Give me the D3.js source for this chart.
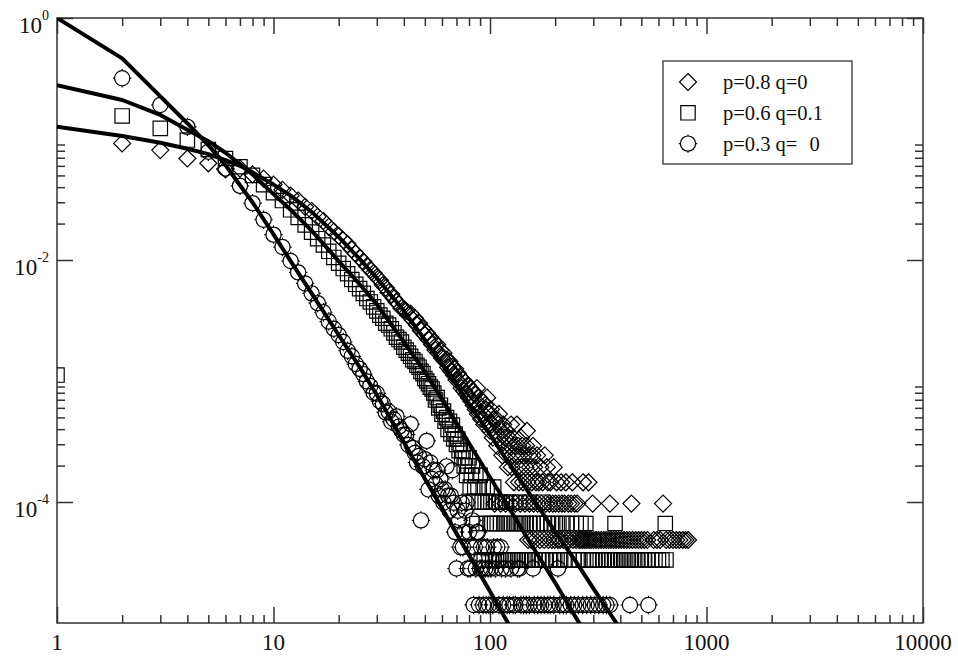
<!DOCTYPE html>
<html>
<head>
<meta charset="utf-8">
<script src="https://cdn.jsdelivr.net/npm/d3@7"></script>
<style>
  html, body { margin: 0; padding: 0; background: #fff; }
  svg { display: block; }
</style>
</head>
<body>
<script>
// ---- Axis ticks ----
const xMajorTicks = [1, 10, 100, 1000, 10000];
const xTickLabels = ["1", "10", "100", "1000", "10000"];
const yMajorTicks = [1, 1e-2, 1e-4];
const yTickExponents = ["0", "-2", "-4"];

// ---- Legend ----
const seriesNames = ["p=0.8 q=0", "p=0.6 q=0.1", "p=0.3 q= 0"];
const seriesShapes = ["diamond", "square", "circle"];

// ---- Model curves: [k, P(k)] ----
const diamondCurve = [[1,0.126],[2,0.106],[3,0.093],[4,0.083],[5,0.075],[6,0.067],[7,0.06],[8,0.053],[10,0.042],[12,0.034],[15,0.025],[20,0.0155],[25,0.0102],[30,0.0071],[40,0.0038],[50,0.0022],[60,0.00138],[70,9.3e-4],[80,6.5e-4],[100,3.6e-4],[120,2.2e-4],[150,1.22e-4],[200,5.67e-5],[250,3.2e-5],[300,1.93e-5],[370,1.1e-5],[450,6.5e-6]];
const squareCurve = [[1,0.279],[2,0.21],[3,0.158],[4,0.119],[5,0.096],[6,0.077],[7,0.062],[8,0.051],[10,0.035],[12,0.026],[15,0.0175],[20,0.0098],[25,0.0063],[30,0.0043],[40,0.0021],[50,0.00119],[60,7.05e-4],[70,4.5e-4],[80,3.06e-4],[100,1.6e-4],[120,9.5e-5],[150,4.9e-5],[200,2.15e-5],[250,1.1e-5],[300,6.4e-6]];
const circleCurve = [[1,1.0],[2,0.464],[3,0.225],[4,0.135],[5,0.089],[6,0.061],[7,0.0415],[8,0.03],[10,0.0163],[12,0.0098],[15,0.0053],[20,0.0024],[25,0.0013],[30,7.7e-4],[40,3.12e-4],[50,1.56e-4],[60,8.9e-5],[70,5.5e-5],[80,3.64e-5],[100,1.82e-5],[120,1.03e-5],[150,5.2e-6]];

// ---- Measured degree distributions: [k, P(k)] ----
const diamondPoints = [[2,0.092],[3,0.081],[4,0.069],[5,0.063],[6,0.056],[7,0.057],[8,0.051],[9,0.047],[10,0.042],[11,0.038],[12,0.034],[13,0.031],[14,0.0275],[15,0.0255],[16,0.0228],[17,0.021],[18,0.0188],[19,0.0172],[20,0.0158],[21,0.0146],[22,0.0135],[23,0.0122],[24,0.0113],[25,0.0104],[26,0.0097],[27,0.0089],[28,0.0083],[29,0.0078],[30,0.0072],[31,0.0068],[32,0.0062],[33,0.0059],[34,0.0054],[35,0.0052],[36,0.0048],[37,0.0045],[38,0.0043],[39,0.004],[40,0.0039],
[41,0.0038],[42,0.0035],[43,0.0036],[44,0.0032],[45,0.0033],[46,0.0029],[47,0.003],[48,0.0026],[49,0.0027],[50,0.0024],[51,0.0025],[52,0.0022],[53,0.0023],[54,0.002],[55,0.0021],[56,0.0018],[57,0.002],[58,0.0017],[59,0.0018],[60,0.00155],[61,0.0017],[62,0.00145],[63,0.0015],[64,0.0013],[65,0.00145],[66,0.00121],[67,0.00131],[68,0.00112],[69,0.00126],[70,0.00102],[71,0.00116],[72,9.7e-4],[73,0.00107],[74,8.73e-4],[75,0.00102],[76,8.25e-4],[77,9.7e-4],[78,7.76e-4],[79,9.22e-4],[80,7.28e-4],[81,8.73e-4],[82,6.79e-4],[83,8.25e-4],[84,6.31e-4],[85,7.76e-4],[86,5.82e-4],[87,8.73e-4],[88,5.34e-4],[89,7.28e-4],[90,6.31e-4],[91,4.85e-4],[92,6.79e-4],[93,5.34e-4],[94,4.37e-4],[95,6.31e-4],[96,5.82e-4],[97,7.28e-4],[98,4.37e-4],[99,5.34e-4],[100,3.88e-4],
[101,5.82e-4],[102,4.37e-4],[103,3.4e-4],[104,4.85e-4],[105,9.7e-5],[106,3.88e-4],[107,4.85e-4],[108,2.91e-4],[109,4.37e-4],[110,5.34e-4],[111,3.4e-4],[112,9.7e-5],[113,3.88e-4],[114,2.43e-4],[115,4.37e-4],[116,2.91e-4],[117,3.4e-4],[118,9.7e-5],[119,3.88e-4],[120,2.43e-4],[121,1.94e-4],[122,3.4e-4],[123,2.91e-4],[124,9.7e-5],[125,4.37e-4],[126,1.94e-4],[127,2.43e-4],[128,3.4e-4],[129,1.455e-4],[130,2.91e-4],[131,9.7e-5],[132,2.43e-4],[133,4.37e-4],[134,1.94e-4],[135,2.91e-4],[136,1.455e-4],[137,2.43e-4],[138,9.7e-5],[139,3.4e-4],[140,1.94e-4],[141,2.91e-4],[142,1.455e-4],[143,2.43e-4],[145,9.7e-5],[146,1.94e-4],[147,2.91e-4],[148,3.88e-4],[149,1.455e-4],[150,4.85e-5],[151,2.43e-4],[152,9.7e-5],[153,1.94e-4],[155,4.85e-5],[156,1.455e-4],[157,2.43e-4],[158,2.91e-4],[159,9.7e-5],[160,1.94e-4],[162,4.85e-5],[163,1.455e-4],[165,2.43e-4],[166,9.7e-5],[168,1.455e-4],[170,4.85e-5],[171,1.94e-4],[173,9.7e-5],[175,1.455e-4],[178,4.85e-5],[179,2.43e-4],[181,9.7e-5],[183,1.94e-4],[185,1.455e-4],[186,4.85e-5],[188,9.7e-5],[190,1.455e-4],[193,4.85e-5],[195,9.7e-5],[197,1.94e-4],[199,4.85e-5],
[201,9.7e-5],[203,1.455e-4],[206,4.85e-5],[208,9.7e-5],[211,4.85e-5],[213,1.455e-4],[215,9.7e-5],[218,4.85e-5],[221,9.7e-5],[224,1.455e-4],[227,4.85e-5],[230,9.7e-5],[233,4.85e-5],[237,9.7e-5],[240,1.455e-4],[242,4.85e-5],[246,9.7e-5],[250,4.85e-5],[253,9.7e-5],[258,4.85e-5],[263,4.85e-5],[268,4.85e-5],[269,1.455e-4],[274,4.85e-5],[280,4.85e-5],[285,1.455e-4],[287,4.85e-5],[293,4.85e-5],[298,9.7e-5],[301,4.85e-5],[309,4.85e-5],[317,4.85e-5],[326,4.85e-5],[335,4.85e-5],[344,4.85e-5],[353,4.85e-5],[358,9.7e-5],[362,4.85e-5],[372,4.85e-5],[382,4.85e-5],[393,4.85e-5],[404,4.85e-5],[416,4.85e-5],[428,4.85e-5],[441,4.85e-5],[450,9.7e-5],[455,4.85e-5],[470,4.85e-5],[485,4.85e-5],[500,4.85e-5],[516,4.85e-5],[533,4.85e-5],[570,4.85e-5],[590,4.85e-5],[610,4.85e-5],[630,9.7e-5],[652,4.85e-5],[675,4.85e-5],[700,4.85e-5],[725,4.85e-5],[750,4.85e-5],[777,4.85e-5],[800,4.85e-5],[822,4.85e-5]];

const squarePoints = [[1,1.12e-3],[2,0.155],[3,0.1225],[4,0.098],[5,0.082],[6,0.069],[7,0.059],[8,0.05],[9,0.042],[10,0.036],[11,0.031],[12,0.026],[13,0.0225],[14,0.0195],[15,0.017],[16,0.015],[17,0.0133],[18,0.0118],[19,0.0105],[20,0.0094],[21,0.0085],[22,0.0077],[23,0.0069],[24,0.0063],[25,0.0058],[26,0.0053],[27,0.0048],[28,0.0045],[29,0.0041],[30,0.0038],[31,0.0035],[32,0.0033],[33,0.003],[34,0.0029],[35,0.0027],[36,0.0025],[37,0.0023],[38,0.0022],[39,0.0021],[40,0.0019],[41,0.0018],[42,0.0017],[43,0.0016],[44,0.0015],[45,0.00145],[46,0.00135],[47,0.0013],[48,0.0012],[49,0.00115],[50,0.00105],[51,0.001],[52,9.5e-4],[53,8.9e-4],[54,8.6e-4],[55,7.96e-4],
[56,6.97e-4],[57,7.3e-4],[58,5.98e-4],[59,6.31e-4],[60,5.31e-4],[61,5.64e-4],[62,4.65e-4],[63,4.98e-4],[64,3.98e-4],[65,4.65e-4],[66,3.65e-4],[67,4.32e-4],[68,3.32e-4],[69,3.65e-4],[70,2.99e-4],[71,3.32e-4],[72,2.66e-4],[73,2.99e-4],[74,2.32e-4],[75,2.66e-4],[76,1.99e-4],[77,2.32e-4],[78,1.66e-4],[79,1.99e-4],[80,2.32e-4],[81,1.33e-4],[82,1.66e-4],[83,1.99e-4],[84,9.96e-5],[85,1.33e-4],[86,1.66e-4],[87,6.64e-5],[88,1.33e-4],[89,9.96e-5],[90,1.66e-4],[91,3.32e-5],[92,9.96e-5],[93,1.33e-4],[94,3.32e-5],[95,9.96e-5],[96,6.64e-5],[97,1.33e-4],[98,9.96e-5],[99,3.32e-5],[100,6.64e-5],
[101,9.96e-5],[102,6.64e-5],[103,3.32e-5],[104,1.33e-4],[105,6.64e-5],[106,9.96e-5],[107,3.32e-5],[108,6.64e-5],[110,9.96e-5],[111,3.32e-5],[112,6.64e-5],[114,9.96e-5],[115,3.32e-5],[116,6.64e-5],[118,3.32e-5],[119,9.96e-5],[120,6.64e-5],[122,3.32e-5],[124,6.64e-5],[126,9.96e-5],[127,3.32e-5],[129,6.64e-5],[131,3.32e-5],[133,6.64e-5],[135,3.32e-5],[137,9.96e-5],[138,6.64e-5],[140,3.32e-5],[142,6.64e-5],[145,3.32e-5],[147,6.64e-5],[150,3.32e-5],[152,9.96e-5],[153,6.64e-5],[156,3.32e-5],[158,6.64e-5],[161,3.32e-5],[164,6.64e-5],[167,3.32e-5],[170,6.64e-5],[173,3.32e-5],[176,9.96e-5],[177,6.64e-5],[180,3.32e-5],[184,6.64e-5],[188,3.32e-5],[192,6.64e-5],[196,3.32e-5],[200,6.64e-5],
[204,3.32e-5],[208,6.64e-5],[212,3.32e-5],[217,6.64e-5],[222,3.32e-5],[227,6.64e-5],[232,3.32e-5],[238,6.64e-5],[244,3.32e-5],[250,6.64e-5],[256,3.32e-5],[263,6.64e-5],[270,3.32e-5],[277,6.64e-5],[285,3.32e-5],[294,3.32e-5],[303,3.32e-5],[313,3.32e-5],[323,3.32e-5],[334,3.32e-5],[345,3.32e-5],[356,3.32e-5],[367,3.32e-5],[378,6.64e-5],[380,3.32e-5],[393,3.32e-5],[406,3.32e-5],[420,3.32e-5],[435,3.32e-5],[450,3.32e-5],[466,3.32e-5],[482,3.32e-5],[500,3.32e-5],[518,3.32e-5],[537,3.32e-5],[557,3.32e-5],[578,3.32e-5],[600,3.32e-5],[622,3.32e-5],[645,6.64e-5],[650,3.32e-5]];

const circlePoints = [[2,0.318],[3,0.191],[4,0.126],[5,0.0785],[6,0.057],[7,0.041],[8,0.0295],[9,0.0215],[10,0.0162],[11,0.0128],[12,0.0098],[13,0.0079],[14,0.0064],[15,0.0053],[16,0.0044],[17,0.0037],[18,0.0031],[19,0.0027],[20,0.0024],[21,0.0021],[22,0.00178],[23,0.0016],[24,0.00138],[25,0.00126],[26,0.00114],[27,9.9e-4],[28,9.1e-4],[29,8.0e-4],[30,7.9e-4],[31,6.8e-4],[32,6.5e-4],[33,5.5e-4],[34,5.6e-4],[35,4.6e-4],[36,4.8e-4],[37,5.1e-4],[38,4.2e-4],[39,3.9e-4],[40,3.6e-4],[41,3.6e-4],[42,2.96e-4],[43,4.4e-4],[44,2.8e-4],[45,2.54e-4],[46,2.12e-4],[47,2.4e-4],[48,7.05e-5],[49,1.97e-4],[50,2.26e-4],[51,3.2e-4],[52,1.27e-4],[53,2.12e-4],[54,1.55e-4],[55,1.83e-4],[56,1.41e-4],[57,1.83e-4],[58,1.13e-4],[59,1.55e-4],[60,1.27e-4],[61,9.87e-5],[62,1.27e-4],[63,1.97e-4],[64,1.13e-4],[65,8.46e-5],[66,1.13e-4],[67,1.83e-4],[68,9.87e-5],[69,5.64e-5],[70,2.82e-5],[71,8.46e-5],[72,7.05e-5],[73,4.23e-5],[74,9.87e-5],[75,4.23e-5],[76,5.64e-5],[77,8.46e-5],[78,9.87e-5],[79,2.82e-5],[80,5.64e-5],[81,2.82e-5],[82,4.23e-5],[83,7.05e-5],[84,1.41e-5],[85,4.23e-5],[86,2.82e-5],[87,5.64e-5],[88,5.64e-5],[89,1.41e-5],[90,2.82e-5],[91,4.23e-5],[92,2.82e-5],[93,1.41e-5],[94,4.23e-5],[95,2.82e-5],[96,1.41e-5],[97,4.23e-5],[98,2.82e-5],[99,1.41e-5],
[101,2.82e-5],[103,1.41e-5],[104,4.23e-5],[106,2.82e-5],[108,4.23e-5],[110,1.41e-5],[112,4.23e-5],[113,2.82e-5],[115,1.41e-5],[118,2.82e-5],[120,1.41e-5],[123,1.41e-5],[125,2.82e-5],[128,1.41e-5],[131,1.41e-5],[134,2.82e-5],[137,2.82e-5],[139,1.41e-5],[143,1.41e-5],[147,1.41e-5],[152,1.41e-5],[158,2.82e-5],[160,1.41e-5],[166,1.41e-5],[172,1.41e-5],[178,1.41e-5],[185,1.41e-5],[190,1.41e-5],[197,1.41e-5],[206,2.82e-5],[210,1.41e-5],[218,1.41e-5],[225,1.41e-5],[236,1.41e-5],[245,1.41e-5],[256,1.41e-5],[268,1.41e-5],[280,1.41e-5],[292,1.41e-5],[305,1.41e-5],[318,1.41e-5],[333,1.41e-5],[345,1.41e-5],[358,1.41e-5],[443,1.41e-5],[539,1.41e-5]];

// ---- Layout ----
const width = 958, height = 656;
const plot = { left: 57, top: 18, right: 923, bottom: 623 };

const x = d3.scaleLog().domain([1, 10000]).range([plot.left, plot.right]);
const y = d3.scaleLog().domain([1e-5, 1]).range([plot.bottom, plot.top]);

const svg = d3.select("body").append("svg")
  .attr("width", width).attr("height", height)
  .style("font-family", "'Liberation Serif', 'Times New Roman', serif");

// Minor tick positions: 2..9 times each lower major value
const xMinor = [];
xMajorTicks.slice(0, -1).forEach(m => { for (let i = 2; i <= 9; i++) xMinor.push(m * i); });
const yMinor = [];
[1e-2, 1e-4].forEach(m => { for (let i = 2; i <= 9; i++) yMinor.push(m * i); });

const axisColor = "#333";
const majorLen = 16, minorLen = 8;

function styleAxis(g) {
  g.select(".domain").remove();
  g.selectAll(".tick line").attr("stroke", axisColor).attr("stroke-width", 1.5);
  g.selectAll(".tick text").remove();
}

// Bottom & top axes (ticks point inward)
svg.append("g").attr("transform", `translate(0,${plot.bottom})`)
  .call(d3.axisBottom(x).tickValues(xMajorTicks).tickSize(-majorLen)).call(styleAxis);
svg.append("g").attr("transform", `translate(0,${plot.bottom})`)
  .call(d3.axisBottom(x).tickValues(xMinor).tickSize(-minorLen)).call(styleAxis);
svg.append("g").attr("transform", `translate(0,${plot.top})`)
  .call(d3.axisTop(x).tickValues(xMajorTicks).tickSize(-majorLen)).call(styleAxis);
svg.append("g").attr("transform", `translate(0,${plot.top})`)
  .call(d3.axisTop(x).tickValues(xMinor).tickSize(-minorLen)).call(styleAxis);

// Left & right axes
svg.append("g").attr("transform", `translate(${plot.left},0)`)
  .call(d3.axisLeft(y).tickValues(yMajorTicks).tickSize(-majorLen)).call(styleAxis);
svg.append("g").attr("transform", `translate(${plot.left},0)`)
  .call(d3.axisLeft(y).tickValues(yMinor).tickSize(-minorLen)).call(styleAxis);
svg.append("g").attr("transform", `translate(${plot.right},0)`)
  .call(d3.axisRight(y).tickValues(yMajorTicks).tickSize(-majorLen)).call(styleAxis);
svg.append("g").attr("transform", `translate(${plot.right},0)`)
  .call(d3.axisRight(y).tickValues(yMinor).tickSize(-minorLen)).call(styleAxis);

// Frame
svg.append("rect")
  .attr("x", plot.left).attr("y", plot.top)
  .attr("width", plot.right - plot.left).attr("height", plot.bottom - plot.top)
  .attr("fill", "none").attr("stroke", axisColor).attr("stroke-width", 1.5);

// Tick labels
svg.append("g").selectAll("text").data(xMajorTicks).join("text")
  .attr("x", d => x(d)).attr("y", plot.bottom + 27)
  .attr("text-anchor", "middle").attr("font-size", 23).attr("fill", "#111")
  .text((d, i) => xTickLabels[i]);

const yLab = svg.append("g").selectAll("text").data(yMajorTicks).join("text")
  .attr("x", 49).attr("y", d => y(d) + 14.5)
  .attr("text-anchor", "end").attr("fill", "#111");
yLab.append("tspan").attr("font-size", 23).text("10");
yLab.append("tspan").attr("font-size", 14).attr("dy", -13).text((d, i) => yTickExponents[i]);

// Clip to plot area
svg.append("clipPath").attr("id", "plotClip").append("rect")
  .attr("x", plot.left).attr("y", plot.top)
  .attr("width", plot.right - plot.left).attr("height", plot.bottom - plot.top);

// Marker shapes (circles carry the small cardinal spurs of the plotting program)
const circlePath = d3.path();
circlePath.arc(0, 0, 7.6, 0, 2 * Math.PI);
circlePath.closePath();
[[0, -1], [1, 0], [0, 1], [-1, 0]].forEach(([dx, dy]) => {
  circlePath.moveTo(dx * 7.6, dy * 7.6);
  circlePath.lineTo(dx * 9.2, dy * 9.2);
});
const markerPath = {
  diamond: "M0,-8.5L8.5,0L0,8.5L-8.5,0Z",
  square: "M-7.2,-7.2H7.2V7.2H-7.2Z",
  circle: circlePath.toString()
};

const series = [
  { shape: "diamond", points: diamondPoints, curve: diamondCurve },
  { shape: "square", points: squarePoints, curve: squareCurve },
  { shape: "circle", points: circlePoints, curve: circleCurve }
];

const plotG = svg.append("g").attr("clip-path", "url(#plotClip)");

// Data markers
series.forEach(s => {
  plotG.append("g").selectAll("path").data(s.points).join("path")
    .attr("transform", d => `translate(${x(d[0])},${y(d[1])})`)
    .attr("d", markerPath[s.shape])
    .attr("fill", "none").attr("stroke", "#000").attr("stroke-width", 1.2);
});

// Model curves
const line = d3.line().x(d => x(d[0])).y(d => y(d[1]));
series.forEach(s => {
  plotG.append("path").datum(s.curve)
    .attr("d", line).attr("fill", "none")
    .attr("stroke", "#000").attr("stroke-width", 4).attr("stroke-linejoin", "round");
});

// Legend
const legend = svg.append("g");
legend.append("rect").attr("x", 663).attr("y", 61).attr("width", 189).attr("height", 103)
  .attr("fill", "#fff").attr("stroke", axisColor).attr("stroke-width", 1.3);
seriesNames.forEach((name, i) => {
  const cy = 82 + i * 30.8;
  legend.append("path").attr("transform", `translate(688,${cy})`)
    .attr("d", markerPath[seriesShapes[i]])
    .attr("fill", "none").attr("stroke", "#000").attr("stroke-width", 1.2);
  const t = legend.append("text").attr("x", 723).attr("y", cy + 7)
    .attr("font-size", 20.5).attr("fill", "#111");
  // the value after "q= " sits a little further out, as in the printed key
  const gap = name.indexOf("= ");
  if (gap >= 0) {
    t.append("tspan").text(name.slice(0, gap + 2));
    t.append("tspan").attr("dx", 7).text(name.slice(gap + 2));
  } else {
    t.text(name);
  }
});
</script>
</body>
</html>
